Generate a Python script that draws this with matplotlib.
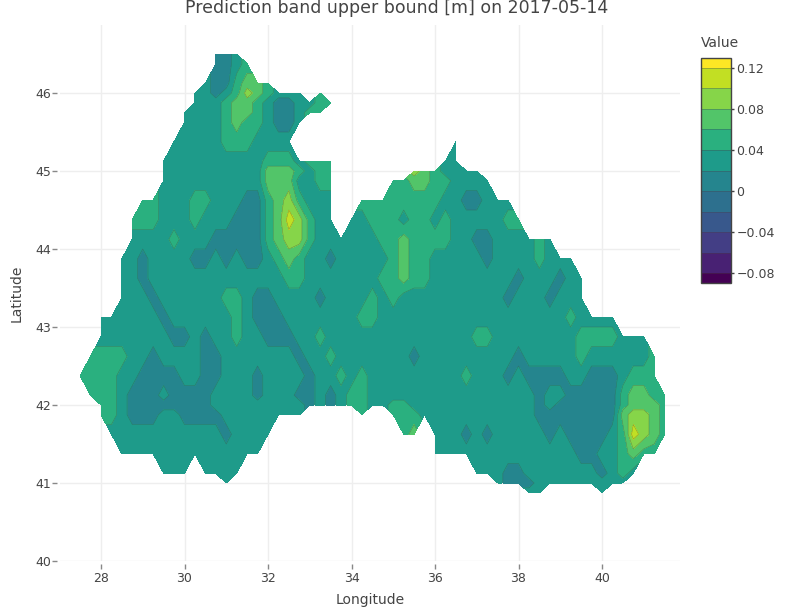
import numpy as np
import matplotlib
matplotlib.use("Agg")
import matplotlib.pyplot as plt

n = np.nan

# latitude of each row, first longitude of the row, values in cm
lat_rows = [46.5, 46.375, 46.125, 46.0, 45.875, 45.75, 45.625, 45.375, 45.125, 45.0, 44.875,
            44.625, 44.375, 44.125, 43.875, 43.625, 43.375, 43.125, 42.875, 42.625,
            42.375, 42.125, 42.0, 41.875, 41.625, 41.375, 41.125, 41.0, 40.875]
lon_start = [30.75, 30.75, 30.5, 30.25, 30.25, 30.0, 30.0, 29.75, 29.5, 29.5, 29.5,
             29.0, 28.75, 28.75, 28.5, 28.5, 28.5, 28.0, 28.0, 27.75,
             27.5, 27.75, 28.0, 28.0, 28.25, 28.5, 29.5, 31.0, 38.25]

z_4650 = [1, 1, 3]
z_4637 = [1, 1, 3, 5]
z_4612 = [3, 1, 1, 5, 7, 7, 5]
z_4600 = [3, 3, 1, 3, 5, 9, 7, 5, 3, 3, 3, n, 5]
z_4587 = [3, 3, 3, 5, 7, 7, 5, 3, 1, 1, 3, 3, 5, 5]
z_4575 = [3, 3, 3, 3, 5, 7, 7, 5, 3, 1, 1, 3, 5, 5]
z_4562 = [3, 3, 3, 3, 5, 7, 5, 5, 3, 1, 1, 3]
z_4537 = [3, 3, 3, 3, 3, 5, 5, 5, 3, 3, 3, 3,
          n, n, n, n, n, n, n, n, n, n, n, n, n, n, n, 3]
z_4512 = [3, 3, 3, 3, 3, 3, 3, 3, 3, 3, 5, 5, 5, 3, 5, 5, 5,
          n, n, n, n, n, n, n, n, n, n, 3, 3]
z_4500 = [3, 3, 3, 3, 3, 3, 3, 3, 3, 3, 7, 7, 7, 5, 3, 5, 5,
          n, n, n, n, n, n, n, 9, 7, 5, 3, 3, 3, 3]
z_4487 = [3, 3, 3, 3, 3, 3, 3, 3, 3, 3, 7, 7, 7, 3, 3, 5, 5,
          n, n, n, n, n, 5, 5, 7, 7, 5, 5, 3, 3, 3, 3]
z_4462 = [5, 5, 3, 3, 3, 5, 5, 3, 3, 3, 1, 1, 5, 7, 9, 5, 3, 3, 3,
          n, n, 5, 5, 5, 5, 5, 5, 5, 5, 3, 3, 1, 1, 3, 3, 3]
z_4437 = [5, 5, 5, 3, 3, 3, 5, 3, 3, 3, 1, 1, 1, 5, 7, 11, 9, 5, 3, 3,
          n, 3, 3, 5, 5, 5, 3, 5, 5, 3, 5, 3, 3, 3, 3, 3, 5, 5]
z_4412 = [3, 3, 3, 3, 5, 3, 3, 3, 1, 1, 1, 1, 1, 5, 7, 9, 9, 5, 3, 3, 3, 3, 3, 3,
          5, 5, 7, 5, 5, 5, 5, 3, 3, 1, 1, 3, 3, 3, 3, 5, 3]
z_4387 = [3, 3, 1, 3, 3, 3, 3, 1, 1, 3, 1, 3, 1, 1, 3, 5, 7, 5, 3, 3, 1, 3, 3, 3, 3, 3,
          5, 7, 5, 5, 3, 3, 3, 3, 3, 1, 3, 3, 3, 3, 5, 3, 3, 3]
z_4362 = [3, 3, 1, 3, 3, 3, 3, 3, 3, 3, 3, 3, 3, 3, 3, 3, 5, 5, 3, 3, 3, 3, 3, 3, 3,
          5, 5, 7, 5, 5, 3, 3, 3, 3, 3, 3, 3, 3, 1, 3, 3, 3, 1, 3, 3]
z_4337 = [3, 3, 3, 1, 3, 3, 3, 3, 3, 3, 5, 5, 3, 1, 1, 3, 3, 3, 3, 1, 3, 3, 3, 3, 5, 3,
          5, 3, 3, 3, 3, 3, 3, 3, 3, 3, 3, 1, 3, 3, 3, 1, 3, 3, 3]
z_4312 = [3, 3, 3, 3, 3, 3, 1, 3, 3, 3, 3, 3, 3, 5, 3, 1, 1, 1, 3, 3, 3, 3, 3, 3, 3, 5, 5, 3,
          3, 3, 3, 3, 3, 3, 3, 3, 3, 3, 3, 3, 3, 3, 3, 3, 3, 5, 3, 3, 3, 3]
z_4287 = [3, 3, 3, 3, 3, 3, 3, 1, 1, 3, 1, 3, 3, 5, 3, 3, 1, 1, 1, 3, 3, 5, 3, 3, 3,
          3, 3, 3, 3, 3, 3, 3, 3, 3, 3, 3, 5, 5, 3, 3, 3, 3, 3, 3, 3, 3, 5, 5, 5, 5, 3, 3, 3]
z_4262 = [5, 5, 5, 5, 3, 3, 1, 3, 3, 3, 3, 1, 1, 3, 3, 3, 3, 3, 3, 3, 1, 3, 3, 5, 3,
          3, 3, 3, 3, 3, 3, 1, 3, 3, 3, 3, 3, 3, 3, 3, 3, 1, 3, 3, 3, 3, 3, 5, 3, 3, 3, 3, 3, 3, 5]
z_4237 = [5, 5, 5, 5, 3, 3, 1, 1, 1, 1, 3, 3, 1, 1, 3, 3, 3, 1, 3, 3, 3, 3, 1, 3, 3, 5, 3, 5, 3,
          3, 3, 3, 3, 3, 3, 3, 3, 5, 3, 3, 3, 1, 3, 1, 1, 1, 1, 3, 3, 1, 1, 1, 3, 5, 5, 5]
z_4212 = [5, 5, 5, 3, 1, 1, 1, 3, 1, 1, 1, 1, 3, 3, 3, 3, 1, 3, 3, 3, 1, 1, 3, 1, 3, 5, 5, 3,
          3, 3, 3, 3, 3, 3, 3, 3, 3, 3, 3, 3, 3, 3, 3, 1, 3, 3, 1, 1, 1, 1, 1, 5, 7, 7, 5, 5]
z_4200 = [5, 5, 3, 1, 1, 1, 1, 1, 1, 1, 1, 3, 3, 3, 3, 3, 3, 3, 3, 3, 1, 3, 1, 3, 5, 5, 3, 3, 5, 5,
          3, 3, 3, 3, 3, 3, 3, 3, 3, 3, 3, 3, 1, 3, 1, 1, 1, 1, 1, 1, 5, 7, 7, 7, 5]
z_4187 = [5, 5, 3, 1, 1, 1, 3, 3, 1, 1, 1, 1, 3, 3, 3, 3, 3, 3, 3, 3,
          n, n, n, n, n, 5, n, n, 5, 5, 5, 3,
          3, 3, 3, 3, 3, 3, 3, 3, 3, 3, 1, 1, 1, 1, 1, 1, 1, 1, 7, 9, 9, 7, 5]
z_4162 = [3, 3, 3, 3, 3, 3, 3, 3, 3, 3, 3, 1, 3, 3, 3, 3,
          n, n, n, n, n, n, n, n, n, n, n, n, 5, 7, n,
          3, 3, 3, 1, 3, 1, 3, 3, 3, 3, 3, 1, 3, 1, 1, 1, 1, 3, 5, 11, 9, 7, 5]
z_4137 = [3, 3, 3, 3, 3, 3, 3, 3, 3, 3, 3, 3, 3, 3,
          n, n, n, n, n, n, n, n, n, n, n, n, n, n, n, n,
          3, 3, 3, 3, 3, 3, 3, 3, 3, 3, 3, 3, 3, 3, 1, 1, 3, 3, 5, 7, 5, 5]
z_4112 = [3, 3, 3, n, 3, 3, 3, 3,
          n, n, n, n, n, n, n, n, n, n, n, n, n, n, n, n, n, n, n, n, n, n,
          3, 3, 3, 1, 1, 3, 3, 3, 3, 3, 3, 3, 1, 3, 5, 3]
z_4100 = [3, n, n, n, n, n, n, n, n, n, n, n, n, n, n, n, n, n, n, n, n, n, n, n, n, n,
          3, 1, 1, 1, 3, 3, 3, 3, 3, 3, 3, 3, 3]
z_4087 = [3, 3, n, n, n, n, n, 3]

z_rows = [z_4650, z_4637, z_4612, z_4600, z_4587, z_4575, z_4562, z_4537, z_4512, z_4500, z_4487,
          z_4462, z_4437, z_4412, z_4387, z_4362, z_4337, z_4312, z_4287, z_4262,
          z_4237, z_4212, z_4200, z_4187, z_4162, z_4137, z_4112, z_4100, z_4087]

lons = np.arange(27.5, 41.76, 0.25)
lats = np.array(lat_rows)[::-1]
grid = np.full((len(lat_rows), len(lons)), np.nan)
for i, row in enumerate(z_rows):
    j = int(round((lon_start[i] - 27.5) / 0.25))
    grid[len(lat_rows) - 1 - i, j:j + len(row)] = np.array(row, dtype=float) / 100.0
grid = np.ma.masked_invalid(grid)

levels = [-0.09, -0.08, -0.06, -0.04, -0.02, 0, 0.02, 0.04, 0.06, 0.08, 0.10, 0.12, 0.13]
colors = [plt.cm.viridis(i / 11) for i in range(12)]
cbar_ticks = [-0.08, -0.04, 0, 0.04, 0.08, 0.12]
cbar_labels = ["\u22120.08", "\u22120.04", "0", "0.04", "0.08", "0.12"]

text_col = "#444444"
W, H = 794, 608
fig = plt.figure(figsize=(W / 100, H / 100), dpi=100)
ax = fig.add_axes([60 / W, (H - 561) / H, 620 / W, 536 / H])

cs = ax.contourf(lons, lats, grid, levels=levels, colors=colors, corner_mask=True, zorder=2)
ax.contour(lons, lats, grid, levels=levels[1:-1], colors=text_col, linewidths=0.4,
           alpha=0.45, corner_mask=True, zorder=3)

ax.set_xlim(27.018, 41.868)
ax.set_ylim(40, 46.872)
ax.set_xticks(range(28, 41, 2))
ax.set_yticks(range(40, 47))
ax.grid(True, color="#eeeeee", linewidth=1)
ax.set_axisbelow(True)
for s in ["top", "right"]:
    ax.spines[s].set_visible(False)
for s in ["left", "bottom"]:
    ax.spines[s].set_position(("outward", 2))
    ax.spines[s].set_visible(False)
ax.tick_params(axis="both", length=3.6, width=1, color="#888888", labelcolor=text_col,
               labelsize=9)
ax.tick_params(axis="x", pad=2.5)
ax.tick_params(axis="y", pad=1)
ax.set_xlabel("Longitude", fontsize=10, color=text_col)
ax.xaxis.set_label_coords(0.5, -39 / 536)
ax.xaxis.label.set_va("center")
ax.set_ylabel("Latitude", fontsize=10, color=text_col)
ax.yaxis.set_label_coords(-43 / 620, 0.5)
ax.yaxis.label.set_va("center")

fig.text(397 / W, 1 - 8 / H, "Prediction band upper bound [m] on 2017-05-14",
         ha="center", va="center", fontsize=12.5, color=text_col)

cax = fig.add_axes([701 / W, (H - 283.3) / H, 30 / W, 225.6 / H])
cb = fig.colorbar(cs, cax=cax, ticks=cbar_ticks, spacing="proportional", drawedges=True)
cb.ax.set_yticklabels(cbar_labels)
cb.ax.tick_params(length=2.5, width=1, color=text_col, labelcolor=text_col, labelsize=9, pad=1.5)
cb.outline.set_edgecolor(text_col)
cb.outline.set_linewidth(1)
cb.dividers.set_color(text_col)
cb.dividers.set_linewidth(0.4)
cb.dividers.set_alpha(0.6)
fig.text(701 / W, 1 - 43 / H, "Value", ha="left", va="center", fontsize=10, color=text_col)

fig.savefig("out.png", dpi=100)
